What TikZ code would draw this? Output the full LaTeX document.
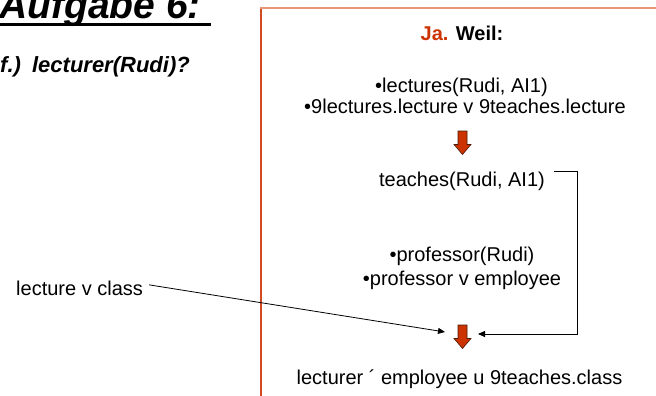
\documentclass[tikz,border=0pt]{standalone}
\usepackage{fontspec}
\setmainfont{Liberation Sans}
\usetikzlibrary{arrows.meta}
\definecolor{jared}{HTML}{CC3300}
\definecolor{arrowfill}{HTML}{CC3300}
\definecolor{arrowline}{HTML}{4A1A08}
\definecolor{frameleft}{HTML}{D24A22}
\definecolor{frametop}{HTML}{E8967A}
\tikzset{
  body/.style={inner sep=0pt, font=\fontsize{20}{24}\selectfont, anchor=base},
  conn/.style={draw=black, line width=0.8pt, -{Triangle[length=7pt,width=6pt]}},
  barrow/.style={fill=arrowfill, draw=arrowline, line width=0.6pt},
  blockarrow/.pic={\path[barrow] (-4.5,0) -- (4.5,0) -- (4.5,13.5) -- (8.5,13.5) -- (0,23.5) -- (-8.5,13.5) -- (-4.5,13.5) -- cycle;}
}
\begin{document}
\begin{tikzpicture}[x=1pt,y=-1pt]
\useasboundingbox (0,0) rectangle (656,396);
% frame
\draw[frameleft, line width=1.2pt] (261,8) -- (261,396);
\draw[frametop, line width=2.2pt] (260.4,7.8) -- (656,7.8);
% title
\node[inner sep=0pt, anchor=base west, font=\fontsize{39}{44}\selectfont\bfseries\itshape] (title) at (-1,19)
  {\rlap{\rule[-7.5pt]{212pt}{3.5pt}}Aufgabe 6:};
\node[inner sep=0pt, anchor=base west, font=\fontsize{22}{26}\selectfont\bfseries\itshape] (question) at (0,73)
  {f.)\hspace{3pt} lecturer(Rudi)?};
% box content
\node[body, font=\fontsize{20}{24}\selectfont\bfseries] (ja) at (462,41) {\textcolor{jared}{Ja.} Weil:};
\node[body] (l1) at (461.5,92.5) {•lectures(Rudi, AI1)};
\node[body] (l2) at (465,113.5) {•9lectures.lecture v 9teaches.lecture};
\pic (ba1) at (462.5,131) {blockarrow};
\node[body] (teach) at (462,186.5) {teaches(Rudi, AI1)};
\node[body] (p1) at (462,261) {•professor(Rudi)};
\node[body] (p2) at (462,285) {•professor v employee};
\pic (ba2) at (462.5,325) {blockarrow};
\node[body] (res) at (459.5,384) {lecturer ´ employee u 9teaches.class};
% left label
\node[body, anchor=base west, inner xsep=6pt] (lvc) at (10,295) {lecture v class};
\coordinate (inL) at (445,332);
\coordinate (inR) at (478,334);
% connectors
\draw[conn] ([yshift=3pt]lvc.east) -- (inL);
\draw[conn] ([xshift=9pt]teach.north east) -- ++(23,0) |- (inR);
\end{tikzpicture}
\end{document}
